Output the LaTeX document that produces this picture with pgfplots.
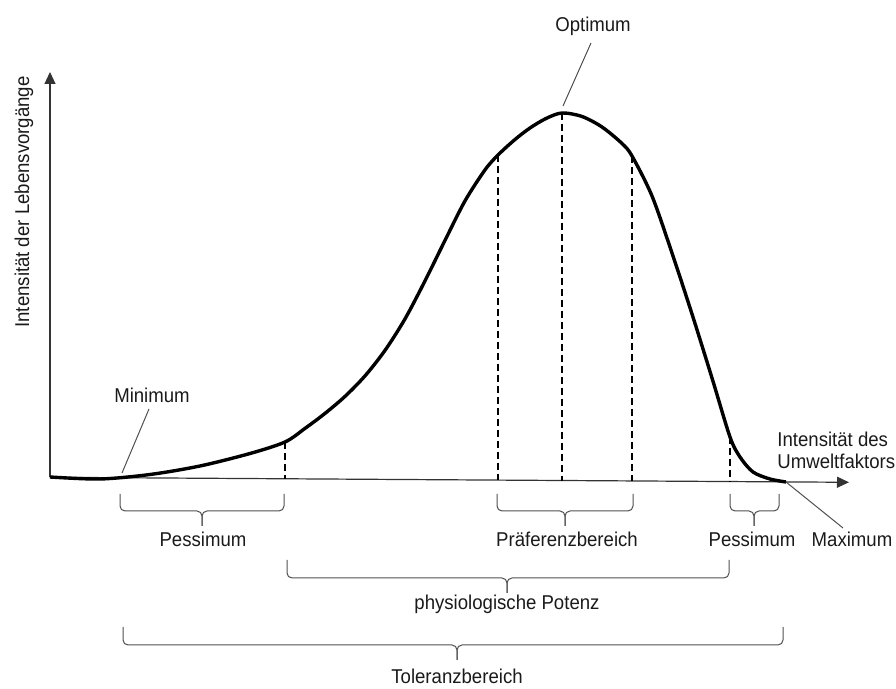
\documentclass[border=0pt]{standalone}
\usepackage{fontspec}
\setmainfont{Liberation Sans}[FakeStretch=0.93]
\usepackage{pgfplots}
\pgfplotsset{compat=1.18}
\usetikzlibrary{arrows.meta}
\definecolor{txt}{HTML}{1A1A1A}
\definecolor{brc}{HTML}{505050}
\begin{document}
\begin{tikzpicture}[font=\fontsize{10}{11.5}\selectfont]
\begin{axis}[name=ax,
  scale only axis, width=448pt, height=344.5pt,
  xmin=0, xmax=896, ymin=0, ymax=689, y dir=reverse,
  hide axis, clip=false]
% axes
\draw[line width=0.6pt, color=black!80, -{Triangle[length=6pt,width=5.5pt]}] (axis cs:50,477) -- (axis cs:50,72);
\draw[line width=0.6pt, color=black!80, -{Triangle[length=6pt,width=5.5pt]}] (axis cs:50,477.3) -- (axis cs:849,482.3);
% dashed lines
\draw[line width=0.9pt, dash pattern=on 3.5pt off 2pt] (axis cs:285,442) -- (axis cs:285,479);
\draw[line width=0.9pt, dash pattern=on 3.5pt off 2pt] (axis cs:498,155) -- (axis cs:498,480);
\draw[line width=0.9pt, dash pattern=on 3.5pt off 2pt] (axis cs:562,113) -- (axis cs:562,481);
\draw[line width=0.9pt, dash pattern=on 3.5pt off 2pt] (axis cs:632,156) -- (axis cs:632,481);
\draw[line width=0.9pt, dash pattern=on 3.5pt off 2pt] (axis cs:730,437) -- (axis cs:730,482);
% curve
\addplot[smooth, line width=1.7pt, black, no markers] coordinates {
(50,477) (100,479) (150,474.5) (200,466) (250,453.5) (285,442) (305,428.4)
(325,413.4) (345,396.4) (365,375.9) (385,350.4) (405,318.9) (425,280.9)
(445,240.4) (465,200.9) (485,169.9) (498,155) (515,139.5) (530,128)
(546,118.5) (562,113) (582,116.5) (602,127) (622,143.5) (632,156)
(652,196) (672,253) (692,314) (712,378) (730,437) (740,457) (753,472)
(770,479) (786,482)
};
% annotation lines
\draw[brc, line width=0.5pt] (axis cs:149,409) -- (axis cs:122,473);
\draw[brc, line width=0.5pt] (axis cs:591,43) -- (axis cs:563,106);
\draw[brc, line width=0.5pt] (axis cs:786,482) -- (axis cs:843,528);
% braces
\draw[brc, line width=0.5pt, rounded corners=2.5pt] (axis cs:120,494) -- (axis cs:120,511) -- (axis cs:202,511) -- (axis cs:202,526);
\draw[brc, line width=0.5pt, rounded corners=2.5pt] (axis cs:284,494) -- (axis cs:284,511) -- (axis cs:202,511) -- (axis cs:202,526);
\draw[brc, line width=0.5pt, rounded corners=2.5pt] (axis cs:497,494) -- (axis cs:497,511) -- (axis cs:565,511) -- (axis cs:565,526);
\draw[brc, line width=0.5pt, rounded corners=2.5pt] (axis cs:633,494) -- (axis cs:633,511) -- (axis cs:565,511) -- (axis cs:565,526);
\draw[brc, line width=0.5pt, rounded corners=2.5pt] (axis cs:730,494) -- (axis cs:730,511) -- (axis cs:754,511) -- (axis cs:754,526);
\draw[brc, line width=0.5pt, rounded corners=2.5pt] (axis cs:779,494) -- (axis cs:779,511) -- (axis cs:754,511) -- (axis cs:754,526);
\draw[brc, line width=0.5pt, rounded corners=2.5pt] (axis cs:287,560) -- (axis cs:287,578) -- (axis cs:507,578) -- (axis cs:507,593);
\draw[brc, line width=0.5pt, rounded corners=2.5pt] (axis cs:729,560) -- (axis cs:729,578) -- (axis cs:507,578) -- (axis cs:507,593);
\draw[brc, line width=0.5pt, rounded corners=2.5pt] (axis cs:123,627) -- (axis cs:123,645) -- (axis cs:457,645) -- (axis cs:457,660);
\draw[brc, line width=0.5pt, rounded corners=2.5pt] (axis cs:783,627) -- (axis cs:783,645) -- (axis cs:457,645) -- (axis cs:457,660);
% labels
\node[txt, anchor=base] at (axis cs:152,403) {Minimum};
\node[txt, anchor=base] at (axis cs:593,32) {Optimum};
\node[txt, anchor=base] at (axis cs:852,547) {Maximum};
\node[txt, anchor=base] at (axis cs:203,547) {Pessimum};
\node[txt, anchor=base] at (axis cs:567,547) {Präferenzbereich};
\node[txt, anchor=base] at (axis cs:752,547) {Pessimum};
\node[txt, anchor=base] at (axis cs:507,610) {physiologische Potenz};
\node[txt, anchor=base] at (axis cs:457,684) {Toleranzbereich};
\node[txt, anchor=base west, inner sep=0pt] at (axis cs:777,447) {Intensität des};
\node[txt, anchor=base west, inner sep=0pt] at (axis cs:777,469) {Umweltfaktors};
\node[txt, anchor=base, rotate=90, inner sep=0pt] at (axis cs:29,202) {Intensität der Lebensvorgänge};
\end{axis}
\pgfresetboundingbox
\path (ax.south west) rectangle (ax.north east);
\end{tikzpicture}
\end{document}
